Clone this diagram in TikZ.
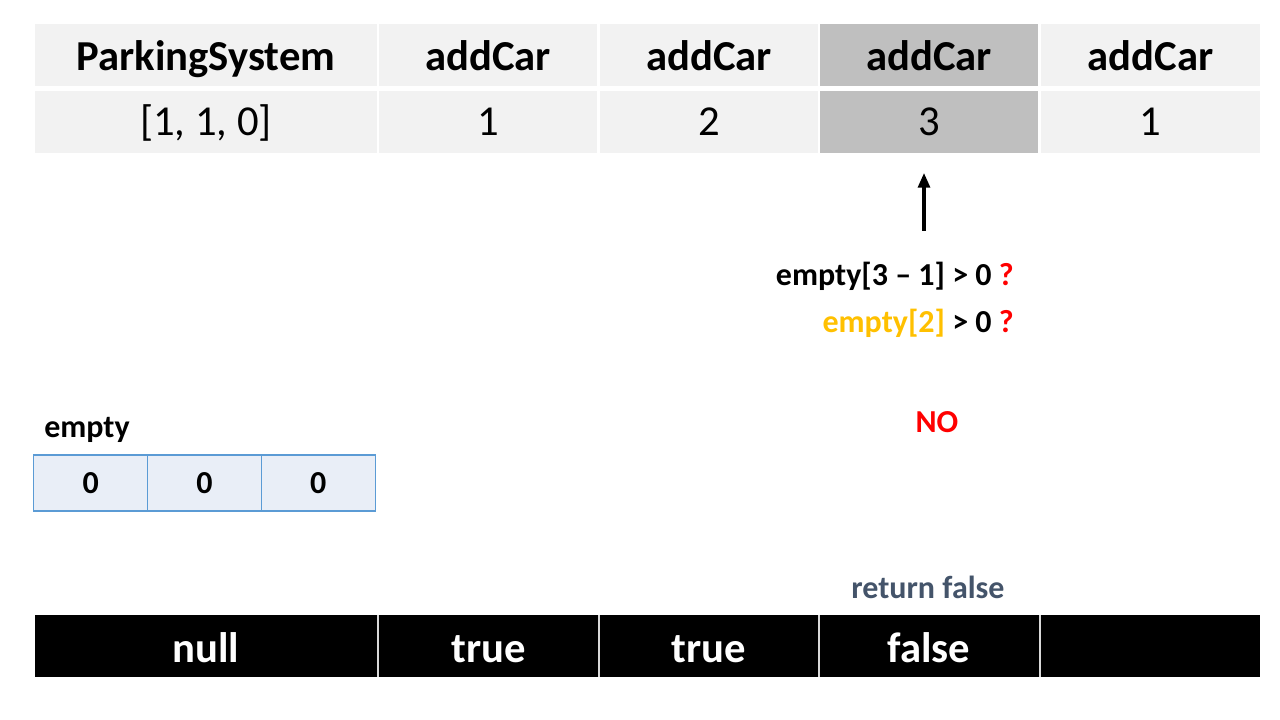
\documentclass[tikz,border=0pt]{standalone}
\usepackage{fontspec}
\setmainfont{Carlito}
\usetikzlibrary{arrows.meta}
\definecolor{cellgray}{HTML}{F2F2F2}
\definecolor{cellhi}{HTML}{BFBFBF}
\definecolor{arrfill}{HTML}{E9EEF7}
\definecolor{arrline}{HTML}{5B9BD5}
\definecolor{goldtxt}{HTML}{FFC000}
\definecolor{redtxt}{HTML}{FF0000}
\definecolor{slatetxt}{HTML}{44546A}
\tikzset{
  cellbox/.style={draw=none, inner sep=0pt, minimum height=62*0.75pt},
  big/.style={font=\fontsize{32}{38}\selectfont\bfseries, inner sep=0pt, anchor=base},
  bigreg/.style={font=\fontsize{32}{38}\selectfont, inner sep=0pt, anchor=base},
  bigwhite/.style={font=\fontsize{32}{38}\selectfont\bfseries, text=white, inner sep=0pt, anchor=base},
  arrc/.style={fill=arrfill, draw=arrline, line width=0.8pt, inner sep=0pt, minimum width=113.7*0.75pt, minimum height=56*0.75pt},
  note/.style={font=\fontsize{24}{28}\selectfont\bfseries, inner sep=0pt},
}
\begin{document}
\begin{tikzpicture}[x=0.75pt,y=-0.75pt]
\useasboundingbox (0,0) rectangle (1280,720);
% top table
\foreach \i/\xl/\xr/\t/\v/\f in {1/35/377/ParkingSystem/{[1, 1, 0]}/cellgray,2/379/597/addCar/1/cellgray,3/600/818/addCar/2/cellgray,4/820/1038/addCar/3/cellhi,5/1041/1260/addCar/1/cellgray}{
  \node[cellbox, fill=\f, minimum width=(\xr-\xl)*0.75pt] (hb\i) at ({(\xl+\xr)/2},55) {};
  \node[cellbox, fill=\f, minimum width=(\xr-\xl)*0.75pt] (ab\i) at ({(\xl+\xr)/2},122) {};
  \node[big] (h\i) at ({(\xl+\xr)/2},71) {\t};
  \node[bigreg] (a\i) at ({(\xl+\xr)/2},136) {\v};
}
% bottom output row
\fill[black] (35,615) rectangle (1260,677);
\foreach \x in {378,599,819,1040}{
  \draw[white!70!gray, line width=1.2pt] (\x,615) -- (\x,677);
}
\foreach \i/\xc/\t in {1/206/null,2/488.5/true,3/709/true,4/929/false,5/1150/{}}{
  \node[bigwhite] (o\i) at (\xc,662) {\t};
}
% arrow
\coordinate (arrS) at (924,231);
\coordinate (arrE) at (924,173);
\draw[line width=2.3pt, -{Triangle[length=11pt,width=9pt]}] (arrS) -- (arrE);
% conditions
\node[note, anchor=base east] (c1) at (1014,285) {empty[3 -- 1] > 0 \textcolor{redtxt}{?}};
\node[note, anchor=base east] (c2) at (1014,332) {\textcolor{goldtxt}{empty[2]} > 0 \textcolor{redtxt}{?}};
\node[note, text=redtxt, anchor=base] (no) at (937,432) {NO};
% empty array
\node[note, anchor=base west] (lbl) at (44,437) {empty};
\node[arrc] (e1) at (90.8,483) {};
\node[arrc] (e2) at (204.5,483) {};
\node[arrc] (e3) at (318.2,483) {};
\node[note, anchor=base] (v1) at (90.8,493) {0};
\node[note, anchor=base] (v2) at (204.5,493) {0};
\node[note, anchor=base] (v3) at (318.2,493) {0};
% return
\node[note, text=slatetxt, anchor=base] (ret) at (928,598) {return false};
\end{tikzpicture}
\end{document}
